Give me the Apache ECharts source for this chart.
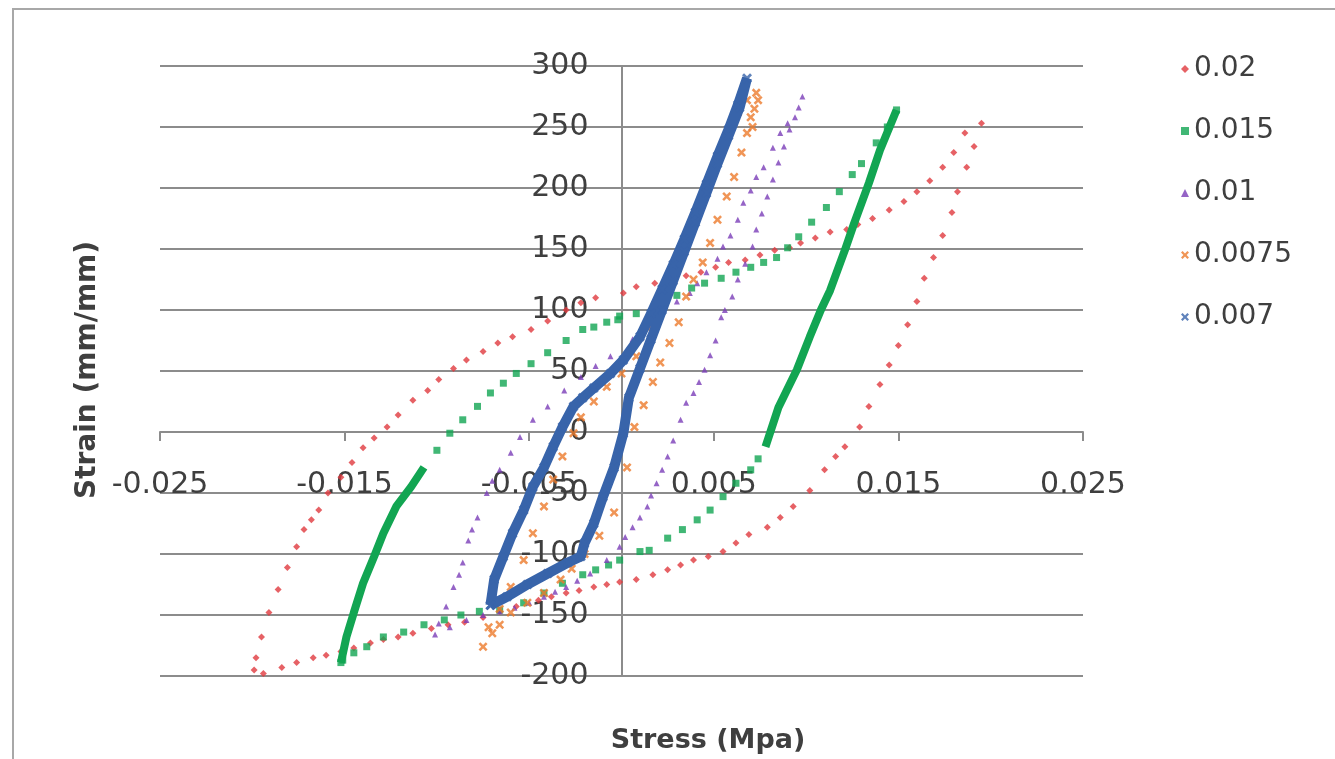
<!DOCTYPE html>
<html><head><meta charset="utf-8">
<script src="https://cdn.jsdelivr.net/npm/echarts@6/dist/echarts.min.js"></script>
<style>html,body{margin:0;padding:0;background:#fff}#c{width:1335px;height:759px}</style>
</head><body><div id="c"></div>
<script>
// ---- categories / legend ----
const seriesNames = ['0.02', '0.015', '0.01', '0.0075', '0.007'];
const xAxisTitle = 'Stress (Mpa)';
const yAxisTitle = 'Strain (mm/mm)';
const xMin = -0.025, xMax = 0.025, xStep = 0.01;
const yMin = -200, yMax = 300, yStep = 50;

// ---- 0.02 (red) ----
const s002 = [
 [0.0195,253],[0.0186,245],[0.0180,229],[0.0174,217],[0.0167,206],[0.0160,197],[0.0153,189],[0.0145,182],
 [0.0136,175],[0.0128,170],[0.0122,166],[0.0113,164],[0.0105,159],[0.0097,155],[0.0091,151],[0.0083,149],
 [0.0075,145],[0.0067,141],[0.0058,139],[0.0051,135],[0.0043,131],[0.0035,128],[0.0027,125],[0.0018,122],
 [0.0008,119],[0.0001,114],[-0.0014,110],[-0.0022,106],[-0.0030,100],[-0.0040,91],[-0.0049,84],[-0.0059,78],
 [-0.0067,73],[-0.0075,66],[-0.0084,59],[-0.0091,52],[-0.0099,43],[-0.0105,34],[-0.0113,26],[-0.0121,14],
 [-0.0127,4],[-0.0134,-5],[-0.0140,-13],[-0.0146,-25],[-0.0152,-37],[-0.0159,-50],[-0.0164,-64],[-0.0168,-72],
 [-0.0172,-80],[-0.0176,-94],[-0.0181,-111],[-0.0186,-129],[-0.0191,-148],[-0.0195,-168],[-0.0198,-185],[-0.0199,-195],
 [-0.0194,-198],[-0.0184,-193],[-0.0176,-189],[-0.0167,-185],[-0.0160,-183],[-0.0152,-180],[-0.0145,-177],[-0.0136,-173],
 [-0.0129,-170],[-0.0121,-168],[-0.0113,-165],[-0.0103,-161],[-0.0094,-158],[-0.0085,-156],[-0.0075,-152],[-0.0066,-147],
 [-0.0057,-143],[-0.0045,-138],[-0.0038,-135],[-0.0030,-132],[-0.0023,-130],[-0.0015,-127],[-0.0008,-125],[-0.0001,-123],
 [0.0008,-121],[0.0017,-117],[0.0025,-113],[0.0032,-109],[0.0039,-105],[0.0047,-102],[0.0055,-98],[0.0062,-91],
 [0.0069,-84],[0.0079,-78],[0.0086,-70],[0.0093,-61],[0.0102,-48],[0.0110,-31],[0.0116,-20],[0.0121,-12],
 [0.0129,4],[0.0134,21],[0.0140,39],[0.0145,55],[0.0150,71],[0.0155,88],[0.0160,107],[0.0164,126],
 [0.0169,143],[0.0174,161],[0.0179,180],[0.0182,197],[0.0187,217],[0.0191,234]
];

// ---- 0.015 (green) ----
const s0015Dots = [
 [0.0074,-22],[0.0070,-31],[0.0062,-42],[0.0055,-53],[0.0048,-64],[0.0041,-72],[0.0033,-80],[0.0025,-87],[0.0015,-97],
 [0.0010,-98],[-0.0001,-105],[-0.0007,-109],[-0.0014,-113],[-0.0021,-117],[-0.0032,-124],[-0.0042,-132],[-0.0053,-140],
 [-0.0066,-146],[-0.0077,-147],[-0.0087,-150],[-0.0096,-154],[-0.0107,-158],[-0.0118,-164],[-0.0129,-168],[-0.0138,-176],
 [-0.0145,-181],[-0.0151,-187],[-0.0152,-189],
 [-0.0100,-15],[-0.0093,-1],[-0.0086,10],[-0.0078,21],[-0.0071,32],[-0.0064,40],[-0.0057,48],[-0.0049,56],
 [-0.0040,65],[-0.0030,75],[-0.0021,84],[-0.0015,86],[-0.0008,90],[-0.0002,92],[-0.0001,95],[0.0008,97],
 [0.0018,104],[0.0030,112],[0.0038,118],[0.0045,122],[0.0054,126],[0.0062,131],[0.0070,135],[0.0077,139],
 [0.0084,143],[0.0090,151],[0.0096,160],[0.0103,172],[0.0111,184],[0.0118,197],[0.0125,211],[0.0130,220],
 [0.0138,237],[0.0144,250],[0.0149,264]
];
const s0015Dense = [
 [0.0149,264],[0.0140,231],[0.0134,204],[0.0126,171],[0.0121,149],[0.0113,116],[0.0108,100],[0.0102,78],
 [0.0095,51],[0.0085,20],[0.0078,-12]
];
const s0015Dense2 = [
 [-0.0152,-189],[-0.0149,-168],[-0.0145,-148],[-0.0140,-124],[-0.0134,-102],[-0.0129,-83],[-0.0122,-61],
 [-0.0114,-45],[-0.0107,-29]
];

// ---- 0.01 (purple) ----
const s001 = [
 [0.0098,275],[0.0094,258],[0.0091,248],[0.0088,234],[0.0085,221],[0.0082,207],[0.0079,193],[0.0076,179],
 [0.0073,166],[0.0071,152],[0.0067,138],[0.0063,125],[0.0060,111],[0.0056,100],[0.0054,94],[0.0051,75],
 [0.0048,63],[0.0045,51],[0.0042,41],[0.0039,32],[0.0035,24],[0.0032,10],[0.0028,-7],[0.0025,-20],
 [0.0022,-31],[0.0019,-42],[0.0016,-52],[0.0014,-61],[0.0010,-70],[0.0006,-78],[0.0002,-86],[-0.0001,-94],
 [-0.0008,-105],[-0.0017,-116],[-0.0024,-122],[-0.0030,-127],[-0.0036,-131],[-0.0042,-135],[-0.0050,-140],[-0.0058,-144],
 [-0.0066,-147],[-0.0075,-150],[-0.0084,-154],[-0.0093,-160],[-0.0101,-166],
 [0.0096,266],[0.0090,253],[0.0086,245],[0.0082,233],[0.0077,217],[0.0073,209],[0.0070,198],[0.0066,188],
 [0.0063,174],[0.0059,161],[0.0055,152],[0.0052,142],[0.0046,131],[0.0041,122],[0.0037,114],[0.0030,107],
 [0.0022,98],[0.0014,88],[0.0006,76],[-0.0006,62],[-0.0014,54],[-0.0022,45],[-0.0031,34],[-0.0040,21],
 [-0.0048,10],[-0.0055,-4],[-0.0060,-17],[-0.0066,-31],[-0.0070,-40],[-0.0073,-50],[-0.0078,-70],[-0.0081,-80],
 [-0.0083,-89],[-0.0086,-107],[-0.0088,-117],[-0.0091,-127],[-0.0095,-143],[-0.0099,-157]
];

// ---- 0.0075 (orange) ----
const s00075 = [
 [0.0073,278],[0.0074,272],[0.0072,265],[0.0070,258],[0.0071,250],[0.0068,245],
 [0.0065,229],[0.0061,209],[0.0057,193],[0.0052,174],[0.0048,155],[0.0044,139],[0.0039,125],[0.0035,111],
 [0.0031,90],[0.0026,73],[0.0021,57],[0.0017,41],[0.0012,22],[0.0007,4],[0.0003,-29],[-0.0004,-66],
 [-0.0012,-85],[-0.0020,-100],[-0.0027,-112],[-0.0033,-121],[-0.0042,-132],[-0.0051,-140],[-0.0060,-148],[-0.0066,-158],
 [-0.0070,-165],[-0.0075,-176],
 [-0.0072,-160],[-0.0066,-145],[-0.0060,-127],[-0.0053,-105],[-0.0048,-83],[-0.0042,-61],[-0.0037,-39],[-0.0032,-20],
 [-0.0026,-1],[-0.0022,12],[-0.0015,25],[-0.0008,37],[0.0000,48],[0.0008,62],[0.0015,85],[0.0022,110],
 [0.0028,133],[0.0034,156],[0.0040,180],[0.0046,203],[0.0052,226],[0.0058,246],[0.0063,262],[0.0068,272]
];

// ---- 0.007 (blue) ----
const s0007 = [
 [-0.0071,-142],[-0.0069,-121],[-0.0064,-102],[-0.0059,-83],[-0.0053,-64],[-0.0048,-45],[-0.0042,-29],[-0.0037,-12],
 [-0.0032,4],[-0.0026,21],[-0.0021,28],[-0.0015,36],[-0.0006,48],[0.0001,59],[0.0010,78],[0.0016,97],
 [0.0022,117],[0.0028,137],[0.0034,158],[0.0040,180],[0.0046,203],[0.0052,226],[0.0058,248],[0.0063,268],
 [0.0068,290],
 [0.0064,266],[0.0058,243],[0.0052,220],[0.0046,196],[0.0040,172],[0.0034,148],[0.0028,124],[0.0022,100],
 [0.0016,76],[0.0010,52],[0.0004,28],[0.0001,-1],[-0.0004,-29],[-0.0010,-53],[-0.0015,-75],[-0.0020,-91],
 [-0.0022,-102],[-0.0029,-107],[-0.0040,-116],[-0.0051,-125],[-0.0062,-135],[-0.0071,-142]
];

const colors = ['#e0393e', '#12a552', '#7a3db8', '#ec7a2c', '#3864aa'];
const cross = 'path://M0,2L2,0L5,3L8,0L10,2L7,5L10,8L8,10L5,7L2,10L0,8L3,5Z';
const txt = '#3f3f3f';
const gridCol = '#8c8c8c';

const chart = echarts.init(document.getElementById('c'));
chart.setOption({
  animation: false,
  backgroundColor: '#fff',
  grid: { left: 160, right: 252, top: 66, bottom: 83 },
  xAxis: {
    type: 'value', min: xMin, max: xMax, interval: xStep,
    axisLine: { onZero: false, lineStyle: { color: gridCol, width: 2 } },
    axisTick: { show: true, length: 9, lineStyle: { color: gridCol, width: 2 } },
    axisLabel: { fontSize: 30, color: txt, margin: 38, fontFamily: 'DejaVu Sans',
      formatter: v => String(parseFloat(v.toFixed(4))) },
    splitLine: { show: false }
  },
  yAxis: {
    type: 'value', min: yMin, max: yMax, interval: yStep,
    axisLine: { onZero: false, lineStyle: { color: gridCol, width: 2 } },
    axisTick: { show: false },
    axisLabel: { fontSize: 30, color: txt, margin: 33, fontFamily: 'DejaVu Sans' },
    splitLine: { show: true, lineStyle: { color: gridCol, width: 2 } }
  },
  legend: {
    data: seriesNames, orient: 'vertical', left: 1176, top: 48,
    itemWidth: 8, itemHeight: 8, itemGap: 30, selectedMode: false,
    textStyle: { fontSize: 28, color: txt, fontFamily: 'DejaVu Sans', lineHeight: 32 }
  },
  graphic: [
    { type: 'rect', shape: { x: 13, y: 9, width: 1330, height: 760 }, style: { fill: 'none', stroke: '#a8a8a8', lineWidth: 2 }, silent: true },
    { type: 'text', x: 88, y: 370, rotation: Math.PI / 2, style: { text: yAxisTitle, font: 'bold 28px "DejaVu Sans"', fill: txt, textAlign: 'center', textVerticalAlign: 'middle' } },
    { type: 'text', x: 708, y: 741, style: { text: xAxisTitle, font: 'bold 27px "DejaVu Sans"', fill: txt, textAlign: 'center', textVerticalAlign: 'middle' } }
  ],
  series: [
    { name: seriesNames[0], type: 'scatter', data: s002, symbol: 'diamond', symbolSize: 7, itemStyle: { color: colors[0] }, z: 2 },
    { name: seriesNames[1], type: 'scatter', data: s0015Dots, symbol: 'rect', symbolSize: 7, itemStyle: { color: colors[1] }, z: 3 },
    { name: seriesNames[1], type: 'line', data: s0015Dense, showSymbol: false, lineStyle: { color: colors[1], width: 8 }, itemStyle: { color: colors[1] }, z: 3 },
    { name: seriesNames[1], type: 'line', data: s0015Dense2, showSymbol: false, lineStyle: { color: colors[1], width: 8 }, itemStyle: { color: colors[1] }, z: 3 },
    { name: seriesNames[2], type: 'scatter', data: s001, symbol: 'triangle', symbolSize: 6, itemStyle: { color: colors[2] }, z: 4 },
    { name: seriesNames[3], type: 'scatter', data: s00075, symbol: cross, symbolSize: 9, itemStyle: { color: colors[3] }, z: 5 },
    { name: seriesNames[4], type: 'scatter', data: s0007, symbol: cross, symbolSize: 10, itemStyle: { color: colors[4] }, z: 6 },
    { name: seriesNames[4], type: 'line', data: s0007, showSymbol: false, lineStyle: { color: colors[4], width: 10 }, itemStyle: { color: colors[4] }, z: 6 }
  ]
});
// move the axes (line, ticks and labels) onto the zero crossing, using the library's own scales
const zeroY = chart.convertToPixel({ yAxisIndex: 0 }, 0);
const bottomY = chart.convertToPixel({ yAxisIndex: 0 }, yMin);
const zeroX = chart.convertToPixel({ xAxisIndex: 0 }, 0);
const leftX = chart.convertToPixel({ xAxisIndex: 0 }, xMin);
chart.setOption({
  xAxis: { offset: zeroY - bottomY },
  yAxis: { offset: leftX - zeroX }
});
</script></body></html>
